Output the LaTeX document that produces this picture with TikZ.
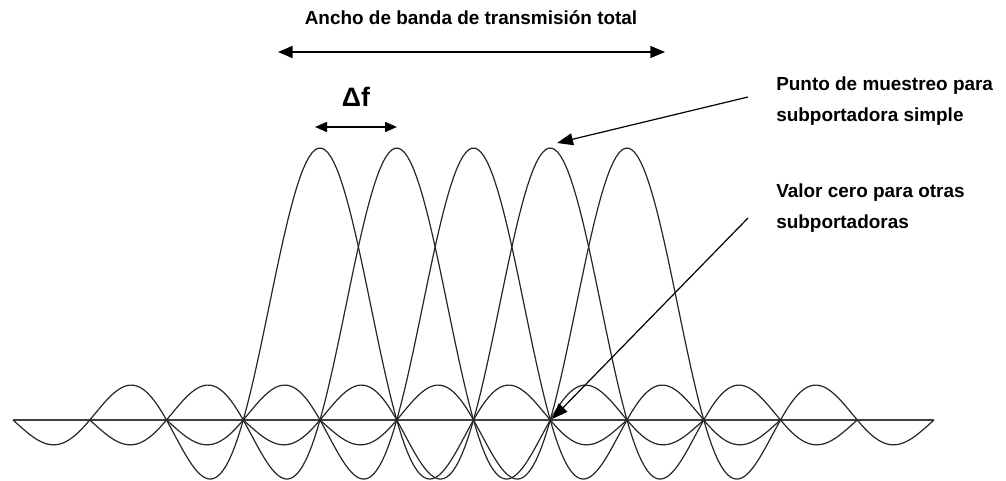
\documentclass[tikz,border=0pt]{standalone}
\usepackage{fontspec}
\setmainfont{Liberation Sans}
\usetikzlibrary{arrows.meta}

\begin{document}
\begin{tikzpicture}[>=Triangle, x=0.75pt, y=-0.75pt,
  declare function={sincf(\u)=sin(180*\u)/(pi*\u);}]

\tikzset{
  annot/.style={
    font=\bfseries\fontsize{14.2}{23.5}\selectfont,
    align=left,
    inner sep=0pt
  },
  carrier/.style={
    line width=0.9pt,
    draw=black!85
  },
  span/.style={
    <->,
    line width=1.2pt,
    >={Triangle[length=11pt,width=9pt]}
  },
  pointer/.style={
    ->,
    line width=0.9pt,
    >={Triangle[length=12pt,width=9pt]}
  }
}

\useasboundingbox (0,0) rectangle (1006,481);

% frequency axis
\coordinate (ax-l) at (13,420);
\coordinate (ax-r) at (934,420);
\draw[line width=1.5pt, black!75] (ax-l) -- (ax-r);

% five overlapping subcarriers, spacing 76.75 px
\foreach \k in {4,...,8} {
  \draw[carrier] plot[domain=-4:4, samples=200]
    ({13+76.75*(\k+\x)}, {420-272*sincf(\x)});
}

% total bandwidth
\node[annot] (title) at (471,18) {Ancho de banda de transmisión total};
\coordinate (bw-l) at (278,52);
\coordinate (bw-r) at (665,52);
\draw[span] (bw-l) -- (bw-r);

% subcarrier spacing
\node[font=\bfseries\fontsize{20}{24}\selectfont, inner sep=0pt] (df) at (356,97) {Δf};
\coordinate (df-l) at (315,127);
\coordinate (df-r) at (397,127);
\draw[span, >={Triangle[length=9pt,width=7.5pt]}] (df-l) -- (df-r);

% annotations on the right
\node[annot, anchor=west] (sample) at (776,101) {Punto de muestreo para\\subportadora simple};
\node[annot, anchor=west] (zero) at (776,208) {Valor cero para otras\\subportadoras};

\coordinate (sample-from) at (748,97);
\coordinate (peak) at (557,143);
\coordinate (zero-from) at (748,218);
\coordinate (null) at (552,419);
\draw[pointer] (sample-from) -- (peak);
\draw[pointer] (zero-from) -- (null);

\end{tikzpicture}
\end{document}
